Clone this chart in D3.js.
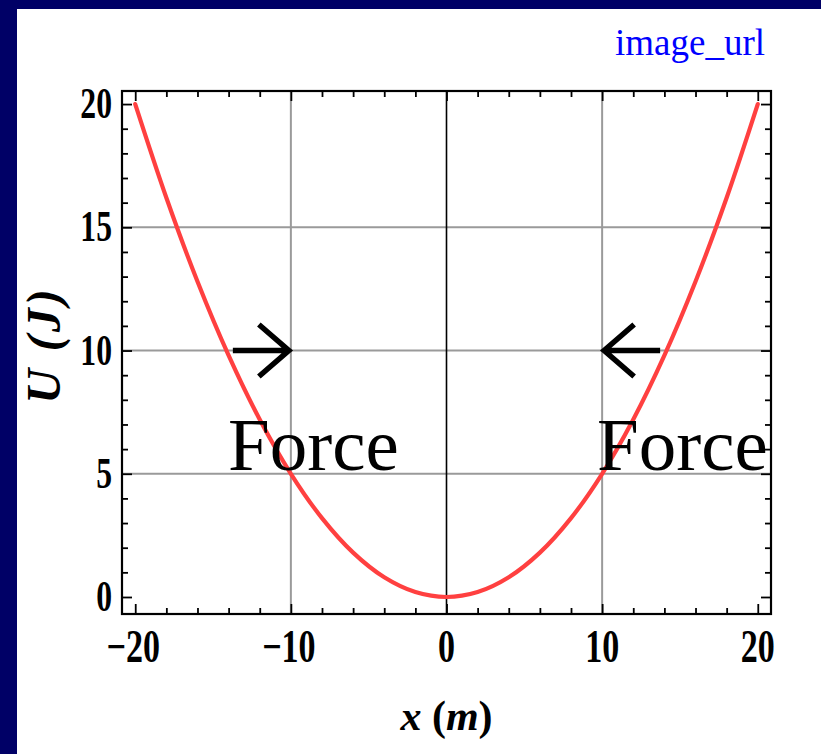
<!DOCTYPE html>
<html>
<head>
<meta charset="utf-8">
<script src="https://cdn.jsdelivr.net/npm/d3@7"></script>
<style>
  html, body { margin: 0; padding: 0; background: #000066; }
  svg { display: block; }
</style>
</head>
<body>
<script>
// Potential energy of a spring-like system, U(x) in joules versus x in metres
const positions = [-20, -18, -16, -14, -12, -10, -8, -6, -4, -2, 0, 2, 4, 6, 8, 10, 12, 14, 16, 18, 20];
const energies  = [20, 16.2, 12.8, 9.8, 7.2, 5.0, 3.2, 1.8, 0.8, 0.2, 0, 0.2, 0.8, 1.8, 3.2, 5.0, 7.2, 9.8, 12.8, 16.2, 20];

const xMajorTicks = [-20, -10, 0, 10, 20];
const yMajorTicks = [0, 5, 10, 15, 20];
const xGridValues = [-10, 10];
const yGridValues = [5, 10, 15];

// force arrows: tip position (x, U) and pointing direction
const forceArrows = [
  { x: -10, u: 10, dir: 1 },
  { x: 10, u: 10, dir: -1 }
];

const xTitle = ["x", " (", "m", ")"];
const yTitle = "U (J)";
const forceLabel = "Force";
const captionText = "image_url";

const W = 821, H = 754;
const frame = { left: 122, right: 771, top: 91, bottom: 614 };

const svg = d3.select("body").append("svg")
  .attr("width", W).attr("height", H);

// navy slide background with white panel
svg.append("rect").attr("width", W).attr("height", H).attr("fill", "#000066");
svg.append("rect").attr("x", 17).attr("y", 9).attr("width", W - 17).attr("height", H - 9).attr("fill", "#ffffff");

const x = d3.scaleLinear().domain([-20.85, 20.85]).range([frame.left, frame.right]);
const y = d3.scaleLinear().domain([-0.69, 20.53]).range([frame.bottom, frame.top]);

const plotW = frame.right - frame.left, plotH = frame.bottom - frame.top;

// grid lines
const grid = svg.append("g");
grid.selectAll("line.gx").data(xGridValues).join("line")
  .attr("x1", d => x(d)).attr("x2", d => x(d))
  .attr("y1", frame.top).attr("y2", frame.bottom)
  .attr("stroke", "#9a9a9a").attr("stroke-width", 2);
grid.selectAll("line.gy").data(yGridValues).join("line")
  .attr("x1", frame.left).attr("x2", frame.right)
  .attr("y1", d => y(d)).attr("y2", d => y(d))
  .attr("stroke", "#9a9a9a").attr("stroke-width", 2);

// vertical axis at x = 0
svg.append("line")
  .attr("x1", x(0)).attr("x2", x(0))
  .attr("y1", frame.top).attr("y2", frame.bottom)
  .attr("stroke", "#000").attr("stroke-width", 1.6);

// frame ticks (inward) on all four sides
const xMinor = d3.range(-20, 20.01, 2).filter(v => !xMajorTicks.includes(v));
const yMinor = d3.range(0, 20.01, 1).filter(v => !yMajorTicks.includes(v));
const MAJ = 10, MIN = 6;

function frameAxis(axisFn, scale, values, len, transform) {
  const g = svg.append("g").attr("transform", transform)
    .call(axisFn(scale).tickValues(values).tickSizeInner(-len).tickSizeOuter(0).tickFormat(""));
  g.select(".domain").remove();
  g.selectAll(".tick line").attr("stroke", "#000").attr("stroke-width", 1.8);
  return g;
}
frameAxis(d3.axisBottom, x, xMajorTicks, MAJ, `translate(0,${frame.bottom})`);
frameAxis(d3.axisBottom, x, xMinor, MIN, `translate(0,${frame.bottom})`);
frameAxis(d3.axisTop, x, xMajorTicks, MAJ, `translate(0,${frame.top})`);
frameAxis(d3.axisTop, x, xMinor, MIN, `translate(0,${frame.top})`);
frameAxis(d3.axisLeft, y, yMajorTicks, MAJ, `translate(${frame.left},0)`);
frameAxis(d3.axisLeft, y, yMinor, MIN, `translate(${frame.left},0)`);
frameAxis(d3.axisRight, y, yMajorTicks, MAJ, `translate(${frame.right},0)`);
frameAxis(d3.axisRight, y, yMinor, MIN, `translate(${frame.right},0)`);

// potential energy curve
const line = d3.line()
  .x((d, i) => x(positions[i]))
  .y(d => y(d))
  .curve(d3.curveCatmullRom.alpha(0.5));
svg.append("path")
  .datum(energies)
  .attr("d", line)
  .attr("fill", "none")
  .attr("stroke", "#ff4040")
  .attr("stroke-width", 4.2)
  .attr("stroke-linecap", "round");

// frame
svg.append("rect")
  .attr("x", frame.left).attr("y", frame.top)
  .attr("width", plotW).attr("height", plotH)
  .attr("fill", "none").attr("stroke", "#000").attr("stroke-width", 2.2);

// tick labels: narrow bold serif
const tickFont = "'Liberation Serif', 'Times New Roman', serif";
const fmt = d => (d < 0 ? "\u2212" + Math.abs(d) : String(d));
const xl = svg.append("g");
xl.selectAll("text").data(xMajorTicks).join("text")
  .attr("transform", d => `translate(${x(d) + (d < 0 ? -2 : 0)},${662}) scale(0.74,1)`)
  .attr("text-anchor", "middle")
  .attr("font-family", tickFont).attr("font-weight", "bold").attr("font-size", 46)
  .text(fmt);
const yl = svg.append("g");
yl.selectAll("text").data(yMajorTicks).join("text")
  .attr("transform", d => `translate(${112},${y(d) + 14}) scale(0.72,1)`)
  .attr("text-anchor", "end")
  .attr("font-family", tickFont).attr("font-weight", "bold").attr("font-size", 44)
  .text(String);

// axis titles
const xt = svg.append("text")
  .attr("x", x(0)).attr("y", 730)
  .attr("text-anchor", "middle")
  .attr("font-family", tickFont).attr("font-weight", "bold").attr("font-size", 42);
xt.selectAll("tspan").data(xTitle).join("tspan")
  .attr("font-style", (d, i) => (i % 2 === 0 ? "italic" : "normal"))
  .text(d => d);

svg.append("text")
  .attr("transform", `translate(${60},${345}) rotate(-90)`)
  .attr("text-anchor", "middle")
  .attr("font-family", tickFont).attr("font-weight", "bold").attr("font-style", "italic")
  .attr("font-size", 48).attr("letter-spacing", 3)
  .text(yTitle);

// force arrows: shaft plus open chevron head
const arrowLen = 56, headBack = 30, headHalf = 26;
svg.append("g").selectAll("path").data(forceArrows).join("path")
  .attr("d", d => {
    const tx = x(d.x) - d.dir * 2, ty = y(d.u);
    const tail = tx - d.dir * arrowLen;
    const hb = tx - d.dir * headBack;
    return `M${tail},${ty}L${tx},${ty}M${hb},${ty - headHalf}L${tx},${ty}L${hb},${ty + headHalf}`;
  })
  .attr("fill", "none").attr("stroke", "#000")
  .attr("stroke-width", 5.5).attr("stroke-linejoin", "miter").attr("stroke-linecap", "butt");

// force labels
const annFont = "'Liberation Serif', 'Times New Roman', serif";
svg.append("text")
  .attr("x", 228).attr("y", 470)
  .attr("font-family", annFont).attr("font-size", 75)
  .text(forceLabel);
svg.append("text")
  .attr("x", 597).attr("y", 470)
  .attr("font-family", annFont).attr("font-size", 75)
  .text(forceLabel);

// caption link text
svg.append("text")
  .attr("x", 765).attr("y", 55)
  .attr("text-anchor", "end")
  .attr("font-family", annFont).attr("font-size", 37)
  .attr("fill", "#0000ff")
  .text(captionText);
</script>
</body>
</html>
